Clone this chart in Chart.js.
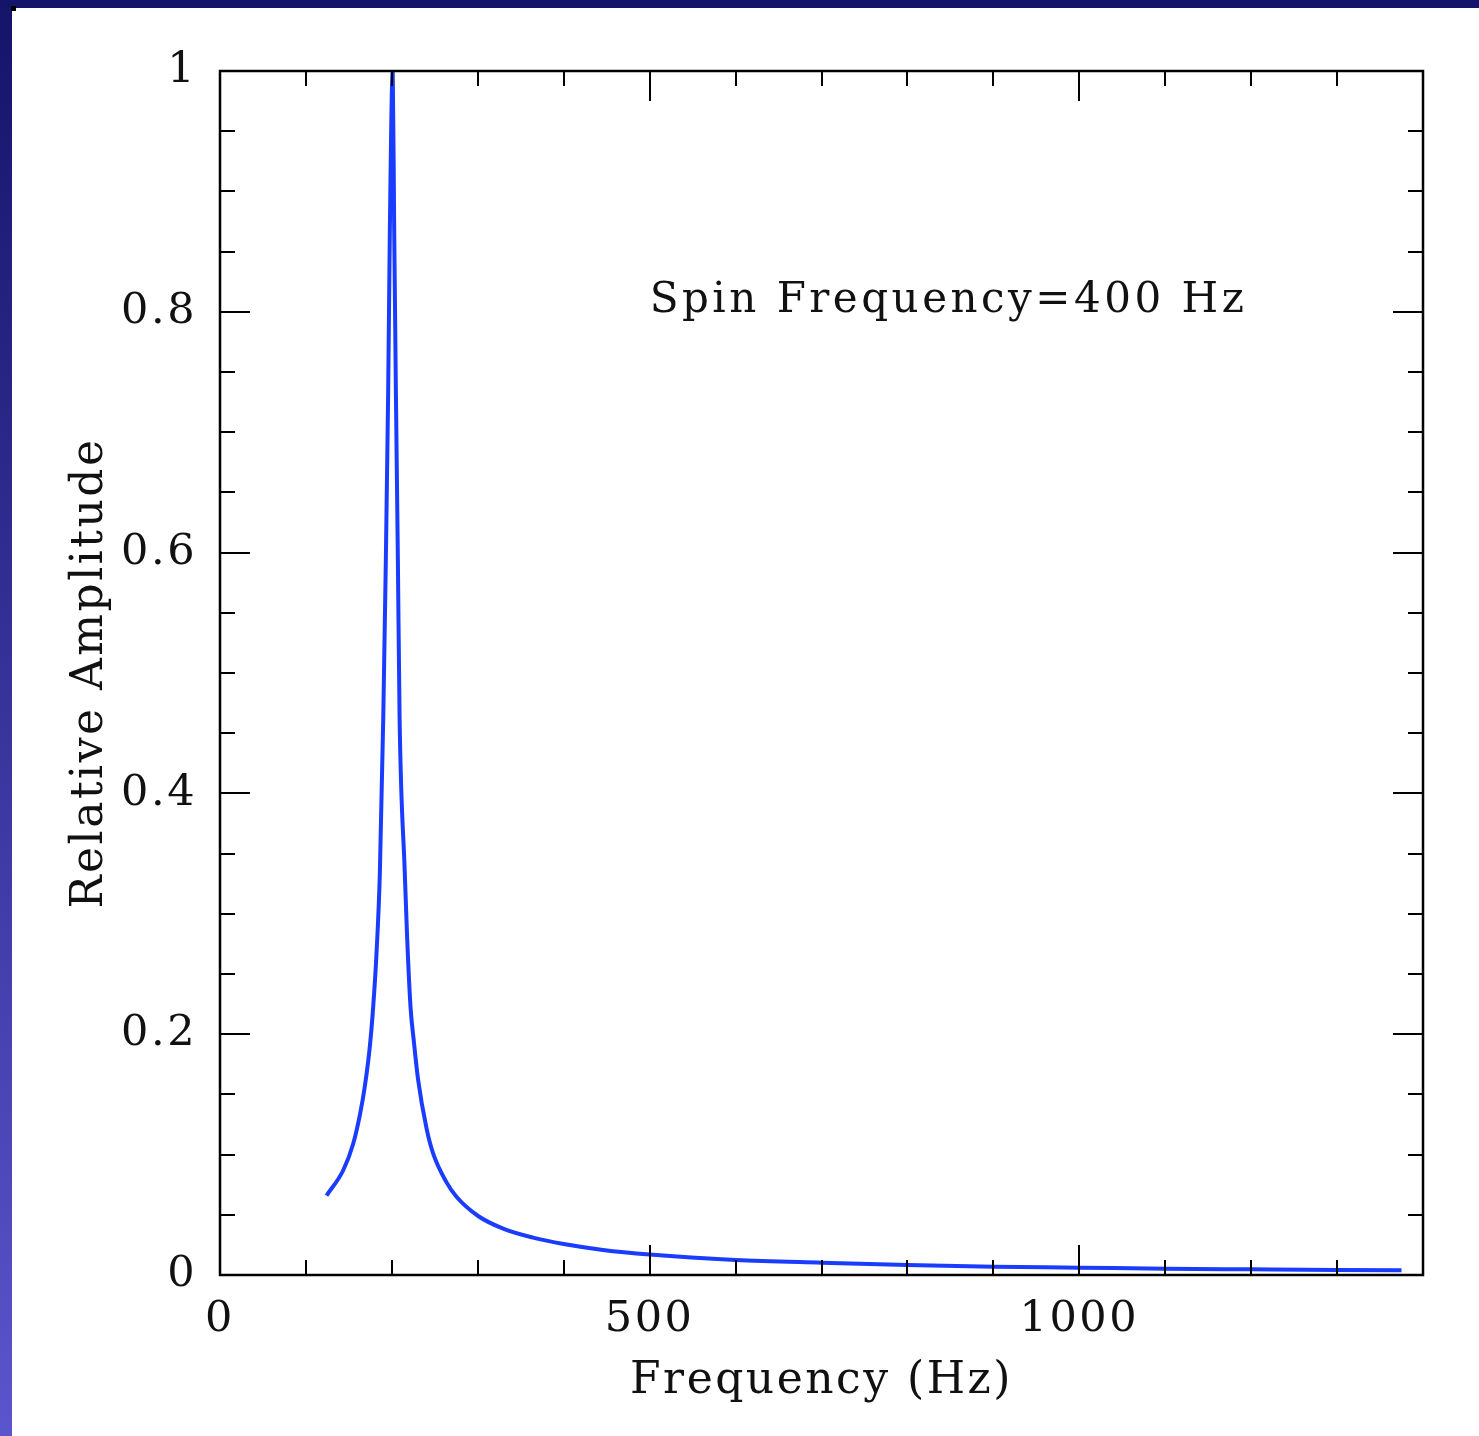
<!DOCTYPE html>
<html>
<head>
<meta charset="utf-8">
<title>Relative Amplitude vs Frequency</title>
<script src="https://cdn.jsdelivr.net/npm/chart.js@4.4.1/dist/chart.umd.min.js"></script>
<style>
  html, body { margin: 0; padding: 0; background: #fff; }
  body { width: 1479px; height: 1436px; position: relative; overflow: hidden; }
  #topBar { position: absolute; left: 0; top: 0; width: 1479px; height: 8px; background: #14146a; }
  #leftBar { position: absolute; left: 0; top: 0; width: 12px; height: 1436px;
    background: linear-gradient(to bottom, #14146a, #5a55cc); }
  #corner { position: absolute; left: 11px; top: 6px; width: 5px; height: 5px; background: #000; }
  #chart { position: absolute; left: 0; top: 0; }
</style>
</head>
<body>
<div id="topBar"></div>
<div id="leftBar"></div>
<div id="corner"></div>
<canvas id="chart" width="1479" height="1436"></canvas>
<script>
// Datos
const freqHz = [
  124, 143.4, 155, 162.8, 168.6, 174.4, 178.3, 182.2, 186, 190, 193, 195.7, 197.7,
  201, 202.7, 204.7, 207, 209, 215, 217.8, 221.7, 225.6, 230.6, 240.3, 248, 264,
  275.2, 300.4, 329.5, 364.3, 400, 445.7, 500, 600, 700, 800, 900, 1000, 1100, 1200, 1300, 1375,
];
const amplitude = [
  0.066, 0.087, 0.109, 0.133, 0.157, 0.19, 0.223, 0.268, 0.333, 0.463, 0.594, 0.733, 0.87,
  1.0, 0.87, 0.733, 0.594, 0.463, 0.335, 0.28, 0.223, 0.194, 0.162, 0.122, 0.101, 0.0765,
  0.065, 0.049, 0.0385, 0.031, 0.0257, 0.0208, 0.017, 0.0125, 0.0102, 0.0083, 0.0069, 0.0061, 0.0052, 0.0047, 0.0042, 0.004,
];

const xMajorTicks = [0, 500, 1000];
const xTickLabels = ["0", "500", "1000"];
const yMajorTicks = [0, 0.2, 0.4, 0.6, 0.8, 1];
const yTickLabels = ["0", "0.2", "0.4", "0.6", "0.8", "1"];
const xMinorStep = 100;
const yMinorStep = 0.05;

const xTitle = "Frequency (Hz)";
const yTitle = "Relative Amplitude";
const noteText = "Spin Frequency=400 Hz";
const notePos = { x: 500, y: 0.8 };

const fontFamily = "'DejaVu Serif', 'Liberation Serif', serif";

// espaciado de letras para parecerse a la fuente original
const spacing = {
  id: "spacing",
  beforeDraw(chart) {
    chart.ctx.letterSpacing = "2.5px";
  },
};

// Marco con marcas hacia adentro en los cuatro lados
const frameTicks = {
  id: "frameTicks",
  afterDatasetsDraw(chart) {
    const { ctx, chartArea: a, scales } = chart;
    const xs = scales.x;
    const ys = scales.y;
    ctx.save();
    ctx.strokeStyle = "#000";
    ctx.lineWidth = 2.5;
    ctx.strokeRect(a.left, a.top, a.right - a.left, a.bottom - a.top);

    ctx.lineWidth = 2;
    ctx.beginPath();
    for (let v = xs.min; v <= xs.max + 1e-9; v += xMinorStep) {
      const px = Math.round(xs.getPixelForValue(v));
      const len = xMajorTicks.includes(v) ? 30 : 15;
      ctx.moveTo(px, a.bottom);
      ctx.lineTo(px, a.bottom - len);
      ctx.moveTo(px, a.top);
      ctx.lineTo(px, a.top + len);
    }
    for (let i = 0; i <= Math.round((ys.max - ys.min) / yMinorStep); i++) {
      const v = ys.min + i * yMinorStep;
      const py = Math.round(ys.getPixelForValue(v));
      const len = i % 4 === 0 ? 30 : 15;
      ctx.moveTo(a.left, py);
      ctx.lineTo(a.left + len, py);
      ctx.moveTo(a.right, py);
      ctx.lineTo(a.right - len, py);
    }
    ctx.stroke();

    // Anotacion
    ctx.fillStyle = "#111";
    ctx.font = "42px " + fontFamily;
    ctx.letterSpacing = "3.5px";
    ctx.textAlign = "left";
    ctx.textBaseline = "alphabetic";
    ctx.fillText(noteText, xs.getPixelForValue(notePos.x), ys.getPixelForValue(notePos.y));
    ctx.restore();
  },
};

const config = {
  type: "line",
  data: {
    datasets: [
      {
        data: freqHz.map((f, i) => ({ x: f, y: amplitude[i] })),
        borderColor: "#1a3cff",
        borderWidth: 4,
        pointRadius: 0,
        fill: false,
        cubicInterpolationMode: "monotone",
      },
    ],
  },
  options: {
    responsive: false,
    animation: false,
    devicePixelRatio: 1,
    layout: { padding: { left: 0, top: 71, right: 56, bottom: 0 } },
    plugins: {
      legend: { display: false },
      tooltip: { enabled: false },
    },
    scales: {
      x: {
        type: "linear",
        min: 0,
        max: 1400,
        grid: { display: false },
        border: { display: false },
        afterBuildTicks: (s) => { s.ticks = xMajorTicks.map((v) => ({ value: v })); },
        afterFit: (s) => { s.height = 161; },
        ticks: {
          color: "#111",
          padding: 11,
          maxRotation: 0,
          font: { family: fontFamily, size: 43 },
          callback: (v) => xTickLabels[xMajorTicks.indexOf(v)],
        },
        title: {
          display: true,
          text: xTitle,
          color: "#111",
          padding: { top: 0, bottom: 28 },
          font: { family: fontFamily, size: 44 },
        },
      },
      y: {
        type: "linear",
        min: 0,
        max: 1,
        grid: { display: false },
        border: { display: false },
        afterBuildTicks: (s) => { s.ticks = yMajorTicks.map((v) => ({ value: v })); },
        afterFit: (s) => { s.width = 220; },
        ticks: {
          color: "#111",
          padding: 15,
          font: { family: fontFamily, size: 43 },
          callback: (v) => yTickLabels[yMajorTicks.indexOf(v)],
        },
        title: {
          display: true,
          text: yTitle,
          color: "#111",
          padding: { top: 64, bottom: 0 },
          font: { family: fontFamily, size: 44 },
        },
      },
    },
  },
  plugins: [spacing, frameTicks],
};

const ctx = document.getElementById("chart").getContext("2d");
const amplitudeChart = new Chart(ctx, config);
</script>
</body>
</html>
